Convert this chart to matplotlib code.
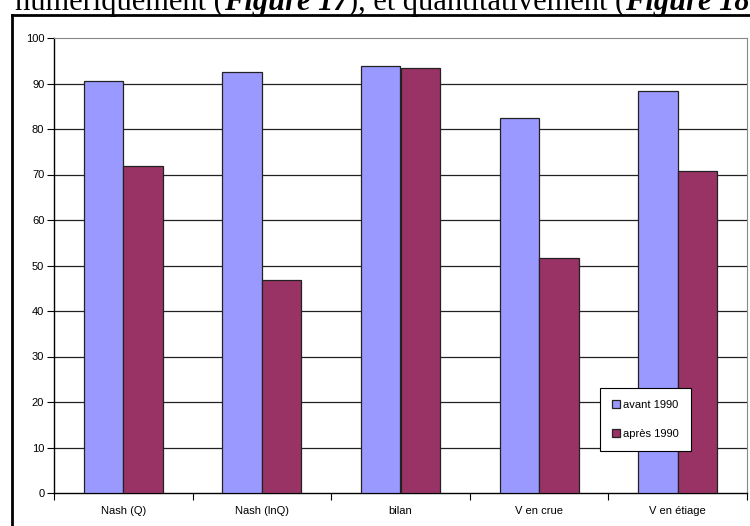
import matplotlib
matplotlib.use("Agg")
import matplotlib.pyplot as plt
import numpy as np
from matplotlib.lines import Line2D

categories = ["Nash (Q)", "Nash (lnQ)", "bilan", "V en crue", "V en étiage"]
avant_1990 = [90.5, 92.5, 93.8, 82.4, 88.4]
apres_1990 = [71.9, 46.8, 93.3, 51.7, 70.7]
series_labels = ["avant 1990", "après 1990"]
y_ticks = list(range(0, 101, 10))

W, H = 750, 526
fig = plt.figure(figsize=(W / 100, H / 100), dpi=100)
fig.patch.set_facecolor("white")

# running document text above the chart
fig.canvas.draw()
renderer = fig.canvas.get_renderer()
pieces = [
    ("numériquement (", "normal", "normal"),
    ("Figure 17", "italic", "bold"),
    ("), et quantitativement (", "normal", "normal"),
    ("Figure 18", "italic", "bold"),
]
x_px = 15
for txt, style, weight in pieces:
    t = fig.text(x_px / W, 1 - 10 / H, txt, fontsize=22, family="Liberation Serif",
                 style=style, weight=weight, va="baseline", ha="left")
    bb = t.get_window_extent(renderer)
    x_px += bb.width

# frame around the chart object
fig.add_artist(Line2D([12 / W, 12 / W], [1 - 15 / H, -0.05], transform=fig.transFigure,
                      color="black", lw=2))
fig.add_artist(Line2D([12 / W, 1.05], [1 - 15 / H, 1 - 15 / H], transform=fig.transFigure,
                      color="black", lw=2))

ax = fig.add_axes([54 / W, 33 / H, (747 - 54) / W, (493 - 38) / H])
x = np.arange(len(categories))
bw = 0.285
ax.bar(x - bw / 2, avant_1990, bw, color="#9999FF", edgecolor="#222222", lw=0.9,
       label=series_labels[0], zorder=3)
ax.bar(x + bw / 2, apres_1990, bw, color="#993366", edgecolor="#222222", lw=0.9,
       label=series_labels[1], zorder=3)

ax.set_xlim(-0.5, len(categories) - 0.5)
ax.set_ylim(0, 100)
ax.set_yticks(y_ticks)
ax.set_yticklabels([str(v) for v in y_ticks], fontsize=8, family="Liberation Sans")
ax.set_xticks(x)
ax.set_xticklabels(categories, fontsize=8, family="Liberation Sans")
ax.set_xticks(np.arange(-0.5, len(categories), 1.0), minor=True)
ax.tick_params(axis="x", which="major", length=0, pad=9)
ax.tick_params(axis="x", which="minor", length=5, width=0.8, direction="out")
ax.tick_params(axis="y", length=5, width=0.8, direction="out", pad=2)

for v in y_ticks[1:-1]:
    ax.axhline(v, color="#222222", lw=0.9, zorder=1)

ax.spines["left"].set_color("black")
ax.spines["bottom"].set_color("black")
ax.spines["left"].set_linewidth(1.0)
ax.spines["bottom"].set_linewidth(1.0)
ax.spines["top"].set_color("#888888")
ax.spines["right"].set_color("#888888")

leg = ax.legend(loc="upper left", bbox_to_anchor=((600 - 54) / 693, (493 - 388) / 455),
                prop={"family": "Liberation Sans", "size": 8},
                frameon=True, fancybox=False, edgecolor="black", framealpha=1,
                handlelength=0.7, handleheight=0.7, handletextpad=0.3,
                labelspacing=1.7, borderpad=1.1, borderaxespad=0)
leg.get_frame().set_linewidth(0.8)

fig.savefig("out.png", dpi=100)
